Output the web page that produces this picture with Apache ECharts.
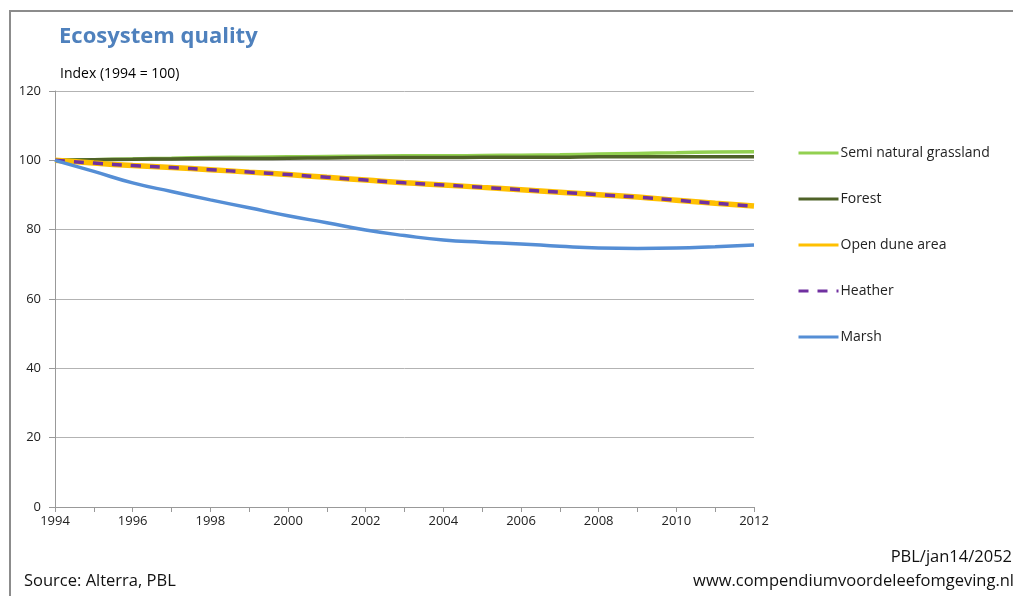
<!DOCTYPE html>
<html>
<head>
<meta charset="utf-8">
<script src="https://cdn.jsdelivr.net/npm/echarts@6/dist/echarts.min.js"></script>
<style>
html, body { margin: 0; padding: 0; background: #fff; }
#chart { width: 1013px; height: 596px; }
</style>
</head>
<body>
<div id="chart"></div>
<script>
// data
var years = ["1994", "1995", "1996", "1997", "1998", "1999", "2000", "2001", "2002", "2003",
	"2004", "2005", "2006", "2007", "2008", "2009", "2010", "2011", "2012"];
var grassland = [100, 100.2, 100.4, 100.6, 100.8, 100.9, 101.0, 101.1, 101.2, 101.3,
	101.3, 101.4, 101.5, 101.6, 101.8, 102.0, 102.2, 102.4, 102.5];
var forest = [100, 100.2, 100.3, 100.4, 100.5, 100.5, 100.6, 100.7, 100.8, 100.8,
	100.8, 100.9, 100.9, 100.9, 101.0, 101.0, 101.0, 101.0, 101.0];
var dune = [100, 99.2, 98.5, 97.9, 97.3, 96.6, 95.9, 95.1, 94.3, 93.5,
	92.9, 92.2, 91.5, 90.8, 90.1, 89.4, 88.5, 87.6, 86.8];
var heather = [100, 99.2, 98.5, 97.9, 97.3, 96.6, 95.9, 95.1, 94.3, 93.5,
	92.9, 92.2, 91.5, 90.8, 90.1, 89.4, 88.5, 87.6, 86.8];
var marsh = [100, 96.8, 93.5, 91.0, 88.6, 86.3, 84.0, 82.0, 79.9, 78.3,
	77.0, 76.4, 75.9, 75.2, 74.7, 74.6, 74.7, 75.1, 75.6];
var names = ["Semi natural grassland", "Forest", "Open dune area", "Heather", "Marsh"];

var font = "'Open Sans', 'Noto Sans', sans-serif";
var myChart = echarts.init(document.getElementById("chart"));

function line(name, data, color, width, type) {
	return {
		name: name,
		type: "line",
		data: data,
		symbol: "none",
		smooth: true,
		animation: false,
		lineStyle: { color: color, width: width, type: type || "solid" },
		itemStyle: { color: color }
	};
}

var option = {
	animation: false,
	textStyle: { fontFamily: font },
	title: [{
		text: "Ecosystem quality",
		left: 54,
		top: 21,
		textStyle: { color: "#4f81bd", fontSize: 22, fontWeight: "bold", fontFamily: font }
	}, {
		text: "Index (1994 = 100)",
		left: 55,
		top: 62,
		textStyle: { color: "#000", fontSize: 14, fontWeight: "normal", fontFamily: font }
	}],
	legend: {
		orient: "vertical",
		left: 792,
		top: 141,
		itemWidth: 40,
		itemHeight: 14,
		itemGap: 32,
		data: names,
		itemStyle: { opacity: 0 },
		lineStyle: { width: 3 },
		textStyle: { color: "#222", fontSize: 14, fontFamily: font, padding: [0, 0, 0, -3] }
	},
	grid: { left: 55, right: 259, top: 91, bottom: 89 },
	xAxis: {
		type: "category",
		data: years,
		boundaryGap: false,
		axisLine: { lineStyle: { color: "#999", width: 1 } },
		axisTick: { show: true, interval: 0, length: 5, lineStyle: { color: "#999" } },
		axisLabel: { interval: 1, color: "#222", fontSize: 13, margin: 8, fontFamily: font },
		splitLine: { show: false }
	},
	yAxis: {
		type: "value",
		min: 0,
		max: 120,
		interval: 20,
		axisLine: { show: true, lineStyle: { color: "#999", width: 1 } },
		axisTick: { show: true, length: 6, lineStyle: { color: "#999" } },
		axisLabel: { color: "#222", fontSize: 13, margin: 14, fontFamily: font },
		splitLine: { lineStyle: { color: "#b3b3b3", width: 1 } }
	},
	series: [
		line(names[0], grassland, "#92d050", 3.5),
		line(names[1], forest, "#4f6228", 3.5),
		line(names[2], dune, "#ffc000", 5.5),
		line(names[3], heather, "#7030a0", 3.5, [10, 9]),
		line(names[4], marsh, "#558ed5", 3.5)
	],
	graphic: [{
		type: "polyline",
		shape: { points: [[10, 596], [10, 11], [1013, 11]] },
		style: { stroke: "#8c8c8c", lineWidth: 2, fill: null }
	}, {
		type: "text",
		left: 24,
		top: 573,
		style: { text: "Source: Alterra, PBL", fill: "#111", font: "16.5px " + font }
	}, {
		type: "text",
		right: 1,
		top: 549,
		style: { text: "PBL/jan14/2052", fill: "#111", font: "16.5px " + font }
	}, {
		type: "text",
		right: -1,
		top: 573,
		style: { text: "www.compendiumvoordeleefomgeving.nl", fill: "#111", font: "16.5px " + font }
	}]
};

myChart.setOption(option);
</script>
</body>
</html>
